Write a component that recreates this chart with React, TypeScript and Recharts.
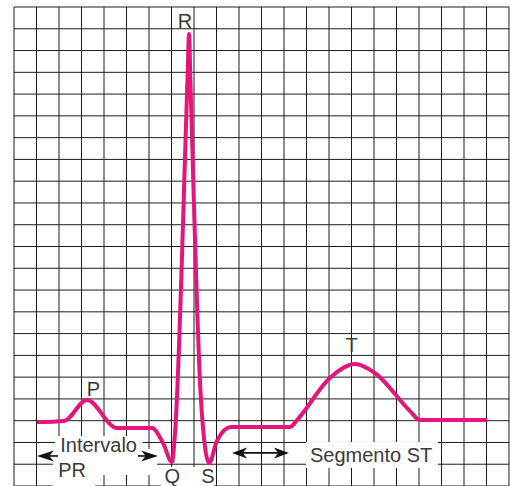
import React from "react";
import {
  ComposedChart,
  Line,
  XAxis,
  YAxis,
  CartesianGrid,
  ReferenceArea,
  ReferenceLine,
  ReferenceDot,
} from "recharts";

// grid units: x = small squares from the left edge, y = small squares from the bottom
const gridX = [0, 1, 2, 3, 4, 5, 6, 7, 8, 9, 10, 11, 12, 13, 14, 15, 16, 17, 18, 19, 20, 21, 22];
const gridY = [0, 1, 2, 3, 4, 5, 6, 7, 8, 9, 10, 11, 12, 13, 14, 15, 16, 17, 18, 19, 20, 21, 22];

// ECG trace points
const ecgX = [1.02, 2.22, 3.24, 4.58, 6.13, 6.62, 7.02, 7.16, 7.71, 7.78, 7.84, 8.31, 8.67, 9.02, 9.64, 12.27, 12.58, 14.04, 15.16, 16.04, 17.6, 18.04, 21.02];
const ecgY = [2.94, 2.99, 3.95, 2.66, 2.66, 1.98, 1.1, 2.48, 18.65, 20.76, 18.65, 3.95, 1.06, 2.07, 2.71, 2.71, 3.03, 4.96, 5.6, 5.19, 3.44, 3.03, 3.03];

const labelTexts = ["R", "P", "T", "Q", "S", "Intervalo", "PR", "Segmento ST"];
const labelX = [7.6, 3.53, 15.0, 7.04, 8.62, 3.76, 2.58, 15.87];
const labelY = [21.04, 4.13, 6.16, 0.14, 0.14, 1.56, 0.41, 1.1];

// white boxes behind annotation texts [x1, x2, y1, y2]
const boxX1 = [1.82, 1.73, 1.73, 12.98, 6.53];
const boxX2 = [5.73, 6.36, 3.6, 18.84, 8.89];
const boxY1 = [1.29, 0.51, 0, 0.83, 0];
const boxY2 = [2.3, 1.7, 1.38, 2.02, 0.87];

// arrows: [fromX, toX, y, head at start, head at end]
const arrowFrom = [1.02, 5.51, 9.69];
const arrowTo = [1.96, 6.4, 12.22];
const arrowY = [1.38, 1.38, 1.52];
const arrowStartHead = [true, false, true];
const arrowEndHead = [false, true, true];

const data = ecgX.map((x, i) => ({ x, y: ecgY[i] }));

const INK = "#3a3a3a";
const ECG = "#E6157B";
const FONT = "'Liberation Sans', Arial, Helvetica, sans-serif";

function head(tx: number, ty: number, dir: number, len: number, half: number) {
  const bx = tx - dir * len;
  const nx = tx - dir * len * 0.72;
  return `${tx},${ty} ${bx},${ty - half} ${nx},${ty} ${bx},${ty + half}`;
}

function makeArrow(startHead: boolean, endHead: boolean, len: number) {
  return (props: any) => {
    const { x1, y1, x2, y2 } = props;
    const a = Math.min(x1, x2);
    const b = Math.max(x1, x2);
    return (
      <g>
        <line x1={a + (startHead ? 6 : 0)} y1={y1} x2={b - (endHead ? 6 : 0)} y2={y2} stroke="#111" strokeWidth={1.6} />
        {startHead && <polygon points={head(a, y1, -1, len, 5.5)} fill="#111" />}
        {endHead && <polygon points={head(b, y2, 1, len, 5.5)} fill="#111" />}
      </g>
    );
  };
}

function makeText(text: string) {
  return (props: any) => (
    <text
      x={props.cx}
      y={props.cy}
      textAnchor="middle"
      fontFamily={FONT}
      fontSize={20}
      fill={INK}
    >
      {text}
    </text>
  );
}

export default function App() {
  return (
    <div style={{ position: "absolute", left: 0, top: 0, background: "#fff" }}>
      <ComposedChart
        width={510}
        height={486}
        data={data}
        margin={{ top: 7, right: 1, bottom: 0, left: 14 }}
      >
        <XAxis type="number" dataKey="x" domain={[0, 22]} ticks={gridX} interval={0} hide allowDataOverflow />
        <YAxis type="number" domain={[0, 22]} ticks={gridY} interval={0} hide allowDataOverflow />
        <CartesianGrid stroke="#1c1c1c" strokeWidth={1} />
        {boxX1.map((x1, i) => (
          <ReferenceArea
            key={"b" + i}
            x1={x1}
            x2={boxX2[i]}
            y1={boxY1[i]}
            y2={boxY2[i]}
            fill="#fff"
            fillOpacity={1}
            stroke="none"
            ifOverflow="visible"
          />
        ))}
        <Line
          type="monotone"
          dataKey="y"
          stroke={ECG}
          strokeWidth={4}
          dot={false}
          activeDot={false}
          isAnimationActive={false}
        />
        {arrowFrom.map((x, i) => (
          <ReferenceLine
            key={"a" + i}
            segment={[
              { x, y: arrowY[i] },
              { x: arrowTo[i], y: arrowY[i] },
            ]}
            shape={makeArrow(arrowStartHead[i], arrowEndHead[i], i === 2 ? 15 : 17)}
            ifOverflow="visible"
          />
        ))}
        {labelTexts.map((t, i) => (
          <ReferenceDot
            key={"l" + i}
            x={labelX[i]}
            y={labelY[i]}
            r={0}
            shape={makeText(t)}
            ifOverflow="visible"
          />
        ))}
      </ComposedChart>
    </div>
  );
}
